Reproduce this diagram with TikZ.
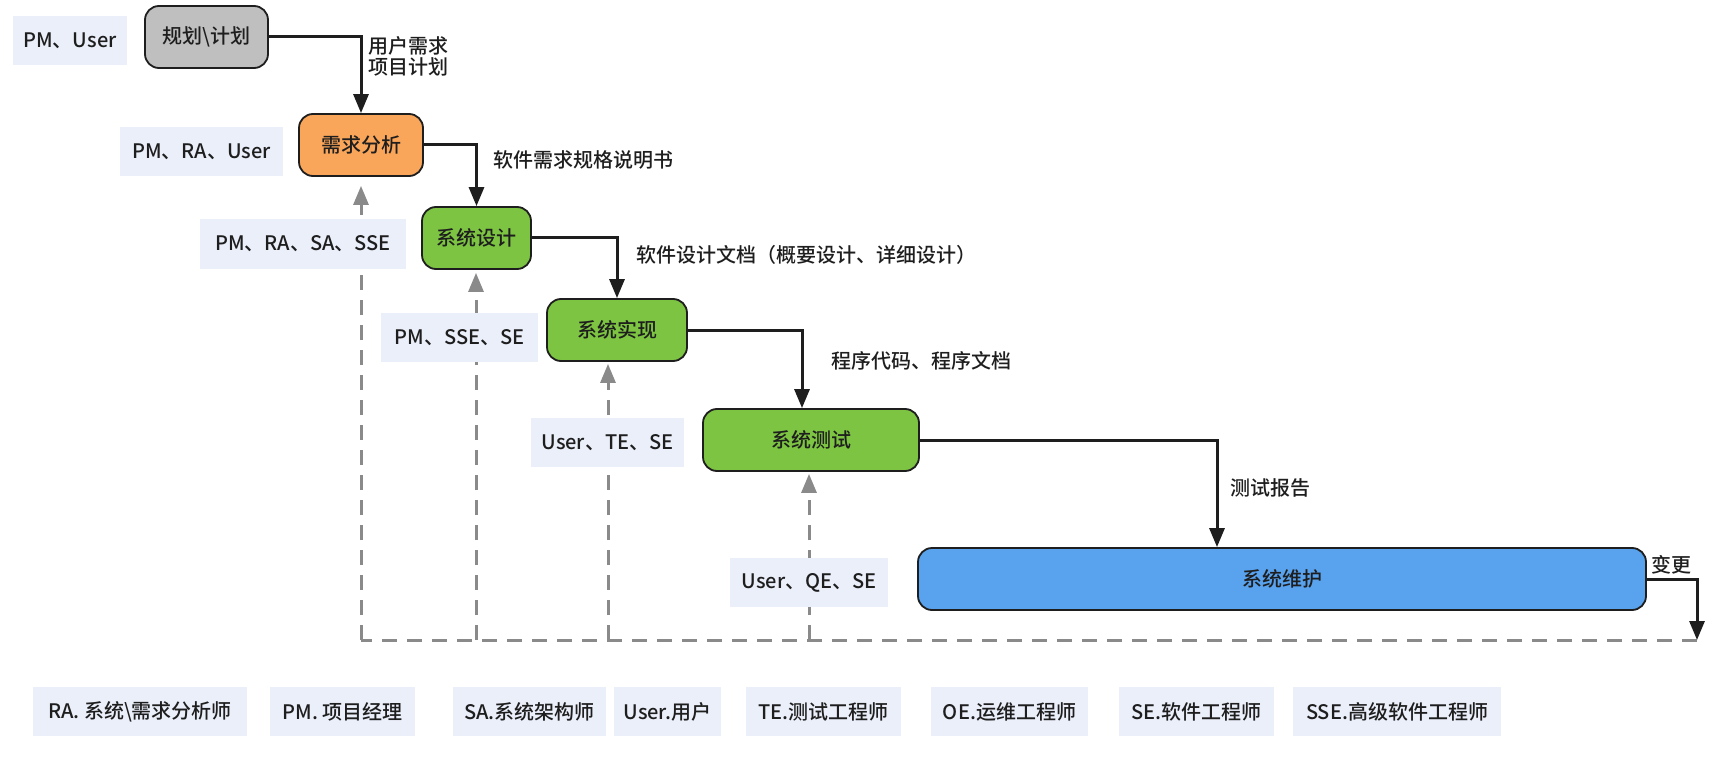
\documentclass[tikz,border=0pt]{standalone}
\usepackage{fontspec}
\setmainfont{Noto Sans CJK SC}[UprightFont=* Medium]
\usepackage{tikz}
\usetikzlibrary{arrows.meta, positioning}
\tikzset{>={Triangle[width=15pt,length=19pt]}}

\definecolor{planfill}{RGB}{191,191,191}
\definecolor{reqfill}{RGB}{250,166,90}
\definecolor{devfill}{RGB}{124,196,66}
\definecolor{mntfill}{RGB}{88,162,238}
\definecolor{rolefill}{RGB}{235,239,250}
\definecolor{backgray}{RGB}{138,138,138}
\definecolor{ink}{RGB}{30,30,30}

\begin{document}
\begin{tikzpicture}[x=1pt, y=-1pt, font=\fontsize{20}{21}\selectfont, text=ink,
    phase/.style={draw=ink, line width=1.8pt, rounded corners=14pt, minimum height=62pt, inner sep=0pt},
    role/.style={fill=rolefill, minimum height=49pt, inner sep=0pt},
    flow/.style={->, line width=3pt, draw=ink},
    back/.style={line width=3pt, draw=backgray, dash pattern=on 15pt off 10pt},
    tag/.style={inner sep=2pt, anchor=west, align=left}]

    \useasboundingbox (0,0) rectangle (1732,762);

    % phases
    \node[phase, fill=planfill, minimum width=123pt] (plan) at (206.5,37) {规划\textbackslash 计划};
    \node[phase, fill=reqfill, minimum width=124pt] (req) at (361,145) {需求分析};
    \node[phase, fill=devfill, minimum width=109pt] (des) at (476.5,238) {系统设计};
    \node[phase, fill=devfill, minimum width=140pt] (imp) at (617,330) {系统实现};
    \node[phase, fill=devfill, minimum width=216pt] (tst) at (811,440) {系统测试};
    \node[phase, fill=mntfill, minimum width=728pt] (mnt) at (1282,579) {系统维护};

    % main flow
    \draw[flow] (plan.east) -| node[tag, pos=0.63, xshift=4pt] {用户需求\\项目计划} (req.north);
    \draw[flow] (req.east) -| node[tag, pos=0.62, xshift=13pt] {软件需求规格说明书} (des.north);
    \draw[flow] (des.east) -| node[tag, pos=0.64, xshift=16pt] {软件设计文档（概要设计、详细设计）} (imp.north);
    \draw[flow] (imp.east) -| node[tag, pos=0.70, xshift=26pt] {程序代码、程序文档} ([xshift=-9pt]tst.north);
    \draw[flow] (tst.east) -| node[tag, pos=0.725, xshift=10pt] {测试报告} ([xshift=-65pt]mnt.north);

    % feedback
    \coordinate (chg) at (1697,640);
    \coordinate (fb1) at (361,640);
    \coordinate (fb2) at (476,640);
    \coordinate (fb3) at (608,640);
    \coordinate (fb4) at (809,640);
    \draw[back] (chg) -- (fb1);
    \draw[back, ->, shorten >=9pt] (fb1) -- (fb1 |- req.south);
    \draw[back, ->, shorten >=3pt] (fb2) -- (fb2 |- des.south);
    \draw[back, ->, shorten >=2pt] (fb3) -- (fb3 |- imp.south);
    \draw[back, ->, shorten >=2pt] (fb4) -- (fb4 |- tst.south);
    \draw[flow] (mnt.east) -| node[pos=0.25, above, inner sep=3pt] {变更} (chg);

    % roles
    \node[role, minimum width=114pt] (r0) at (70,40.5) {PM、User};
    \node[role, minimum width=163pt] (r1) at (201.5,151.5) {PM、RA、User};
    \node[role, minimum width=206pt] (r2) at (303,244) {PM、RA、SA、SSE};
    \node[role, minimum width=157pt] (r3) at (459.5,337.5) {PM、SSE、SE};
    \node[role, minimum width=153pt] (r4) at (607.5,442.5) {User、TE、SE};
    \node[role, minimum width=158pt] (r5) at (809,582.5) {User、QE、SE};

    % legend
    \node[role, minimum width=214pt] (lRA) at (140,711.5) {RA. 系统\textbackslash 需求分析师};
    \node[role, minimum width=145pt] (lPM) at (342.5,711.5) {PM. 项目经理};
    \node[role, minimum width=153pt] (lSA) at (529.5,711.5) {SA.系统架构师};
    \node[role, minimum width=107pt] (lUser) at (667.5,711.5) {User.用户};
    \node[role, minimum width=155pt] (lTE) at (823.5,711.5) {TE.测试工程师};
    \node[role, minimum width=157pt] (lOE) at (1009.5,711.5) {OE.运维工程师};
    \node[role, minimum width=155pt] (lSE) at (1196.5,711.5) {SE.软件工程师};
    \node[role, minimum width=208pt] (lSSE) at (1397,711.5) {SSE.高级软件工程师};
\end{tikzpicture}
\end{document}
